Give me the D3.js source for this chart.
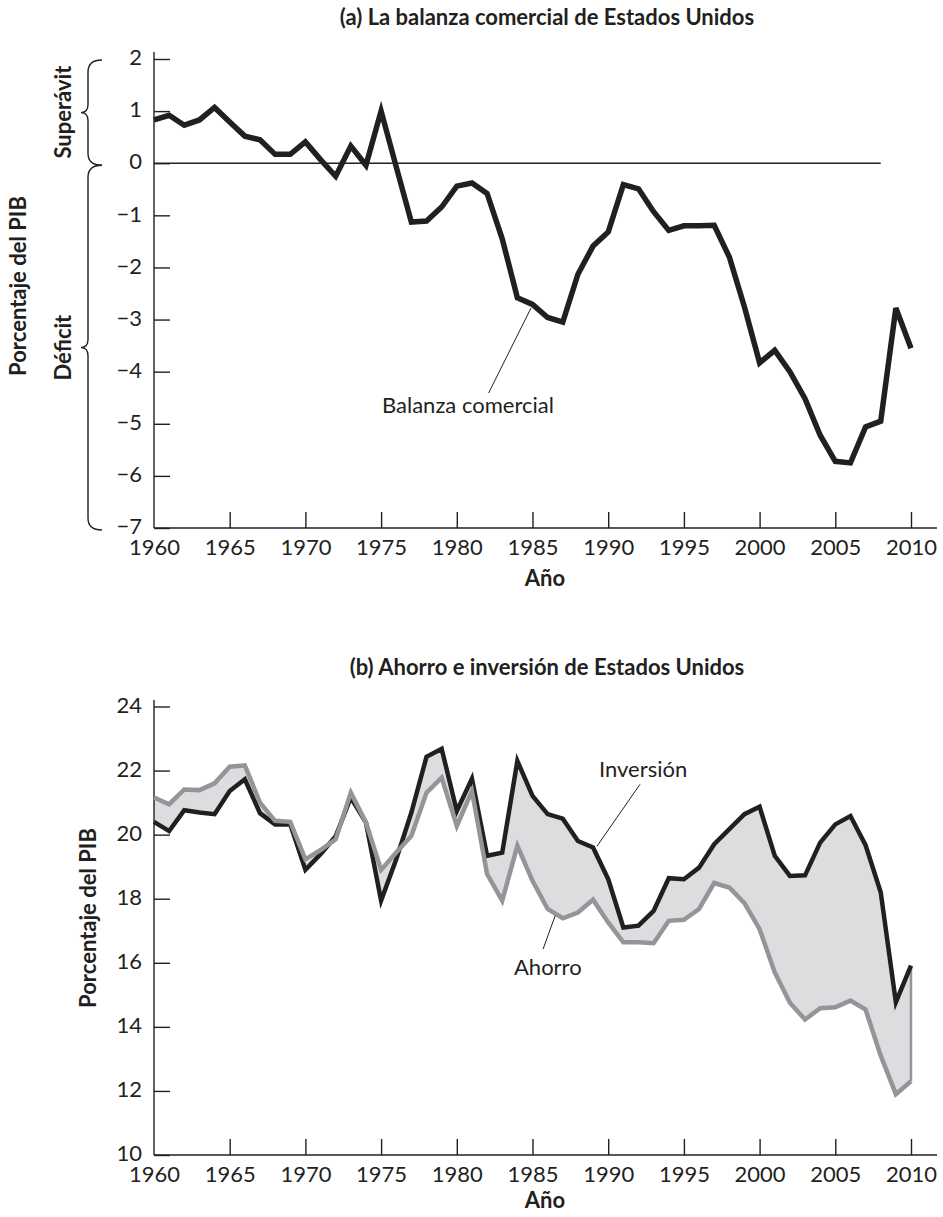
<!DOCTYPE html>
<html><head><meta charset="utf-8">
<script src="https://cdn.jsdelivr.net/npm/d3@7"></script>
<style>
html,body{margin:0;padding:0;background:#fff;}
svg{display:block;}
text{font-family:Lato,"Open Sans",sans-serif;fill:#231f20;}
</style></head>
<body>
<svg id="c" width="943" height="1217"></svg>
<script>
const years = d3.range(1960, 2011);
const tradeBalance = [0.83,0.92,0.73,0.83,1.07,0.79,0.52,0.45,0.17,0.17,
  0.41,0.07,-0.25,0.33,-0.04,1.0,-0.07,-1.13,-1.11,-0.84,
  -0.44,-0.38,-0.58,-1.45,-2.58,-2.71,-2.96,-3.05,-2.13,-1.59,
  -1.32,-0.41,-0.49,-0.93,-1.29,-1.2,-1.2,-1.19,-1.8,-2.76,
  -3.83,-3.59,-4.0,-4.52,-5.22,-5.72,-5.75,-5.06,-4.95,-2.78,-3.55];
const investment = [20.4,20.11,20.76,20.69,20.64,21.36,21.73,20.67,20.32,20.32,
  18.9,19.39,19.95,21.16,20.38,17.94,19.23,20.69,22.43,22.68,
  20.74,21.75,19.34,19.44,22.3,21.21,20.64,20.5,19.8,19.6,
  18.61,17.1,17.16,17.62,18.64,18.61,18.97,19.7,20.17,20.64,
  20.87,19.34,18.71,18.73,19.75,20.32,20.58,19.67,18.2,14.77,15.91];
const saving = [21.16,20.95,21.41,21.39,21.6,22.12,22.16,21.0,20.43,20.4,
  19.23,19.52,19.85,21.31,20.38,18.9,19.44,19.96,21.31,21.78,
  20.27,21.36,18.77,17.94,19.65,18.56,17.68,17.39,17.57,17.97,
  17.26,16.64,16.64,16.61,17.31,17.34,17.68,18.49,18.35,17.86,
  17.05,15.7,14.75,14.23,14.58,14.61,14.82,14.54,13.1,11.9,12.3];
const xTicks = [1960,1965,1970,1975,1980,1985,1990,1995,2000,2005,2010];
const yTicksTop = [2,1,0,-1,-2,-3,-4,-5,-6,-7];
const yTicksBottom = [10,12,14,16,18,20,22,24];

const svg = d3.select("#c");
const INK = "#231f20", GRAY = "#939598", FILL = "#dcdddf";

const x = d3.scaleLinear().domain([1960, 2010]).range([154, 911]);
const yTop = d3.scaleLinear().domain([-7, 2]).range([528, 59]);
const yBot = d3.scaleLinear().domain([10, 24]).range([1155, 706.5]);

function drawAxes(g, y, yTicks, top, bottom) {
  g.append("line").attr("x1", 154).attr("x2", 154).attr("y1", top).attr("y2", bottom)
    .attr("stroke", INK).attr("stroke-width", 1.4);
  g.append("line").attr("x1", 154).attr("x2", 937).attr("y1", bottom).attr("y2", bottom)
    .attr("stroke", INK).attr("stroke-width", 1.4);
  const ya = g.append("g").attr("transform", "translate(154,0)")
    .call(d3.axisLeft(y).tickValues(yTicks).tickSizeInner(-16).tickSizeOuter(0).tickPadding(12));
  ya.select(".domain").remove();
  const xa = g.append("g").attr("transform", `translate(0,${bottom})`)
    .call(d3.axisBottom(x).tickValues(xTicks).tickFormat(d3.format("d")).tickSizeInner(-16).tickSizeOuter(0).tickPadding(11));
  xa.select(".domain").remove();
  [ya, xa].forEach(a => {
    a.selectAll("line").attr("stroke", INK).attr("stroke-width", 1.4);
    a.selectAll("text").attr("font-family", "Lato, sans-serif").attr("font-size", 22).attr("fill", INK);
  });
  ya.selectAll("text").attr("dy", "0.26em");
  xa.selectAll("line").filter(d => d === 1960).remove();
}

// ---------- Panel (a) ----------
const ga = svg.append("g");
ga.append("text").attr("x", 547).attr("y", 25).attr("text-anchor", "middle")
  .attr("font-size", 22).attr("font-weight", "bold").text("(a) La balanza comercial de Estados Unidos");
drawAxes(ga, yTop, yTicksTop, 52, 528);
ga.append("line").attr("x1", 154).attr("x2", x(2008)).attr("y1", yTop(0)).attr("y2", yTop(0))
  .attr("stroke", INK).attr("stroke-width", 1.4);
ga.append("path").datum(years.map((yr, i) => [yr, tradeBalance[i]]))
  .attr("d", d3.line().x(d => x(d[0])).y(d => yTop(d[1])))
  .attr("fill", "none").attr("stroke", INK).attr("stroke-width", 5.5).attr("stroke-linejoin", "miter");
ga.append("line").attr("x1", x(1982.1)).attr("y1", yTop(-4.41)).attr("x2", x(1984.9)).attr("y2", yTop(-2.78))
  .attr("stroke", INK).attr("stroke-width", 1);
ga.append("text").attr("x", 382).attr("y", 413).attr("font-size", 22).text("Balanza comercial");
function brace(g, top, bot) {
  const mid = (top + bot) / 2, xl = 88, xt = 81, xe = 102, r = 12;
  g.append("path").attr("d",
    `M${xe},${top} Q${xl},${top} ${xl},${top + r} L${xl},${mid - 8} Q${xl},${mid} ${xt},${mid} ` +
    `Q${xl},${mid} ${xl},${mid + 8} L${xl},${bot - r} Q${xl},${bot} ${xe},${bot}`)
    .attr("fill", "none").attr("stroke", INK).attr("stroke-width", 1.4);
}
brace(ga, yTop(2) + 1, yTop(0) + 2);
brace(ga, yTop(0) + 2, yTop(-7) + 2);
ga.append("text").attr("transform", `translate(71,${(yTop(2) + yTop(0)) / 2 + 1}) rotate(-90)`)
  .attr("text-anchor", "middle").attr("font-size", 22).attr("font-weight", "bold").text("Superávit");
ga.append("text").attr("transform", `translate(71,${(yTop(0) + yTop(-7)) / 2 + 2}) rotate(-90)`)
  .attr("text-anchor", "middle").attr("font-size", 22).attr("font-weight", "bold").text("Déficit");
ga.append("text").attr("transform", "translate(26,286) rotate(-90)")
  .attr("text-anchor", "middle").attr("font-size", 22).attr("font-weight", "bold").text("Porcentaje del PIB");
ga.append("text").attr("x", 545).attr("y", 586).attr("text-anchor", "middle")
  .attr("font-size", 22).attr("font-weight", "bold").text("Año");

// ---------- Panel (b) ----------
const gb = svg.append("g");
gb.append("text").attr("x", 547).attr("y", 675).attr("text-anchor", "middle")
  .attr("font-size", 22).attr("font-weight", "bold").text("(b) Ahorro e inversión de Estados Unidos");
const rows = years.map((yr, i) => ({yr, inv: investment[i], sav: saving[i]}));
gb.append("path").datum(rows)
  .attr("d", d3.area().x(d => x(d.yr)).y0(d => yBot(d.sav)).y1(d => yBot(d.inv)))
  .attr("fill", FILL);
drawAxes(gb, yBot, yTicksBottom, 700, 1155);
const last = rows[rows.length - 1];
gb.append("line").attr("x1", x(last.yr)).attr("x2", x(last.yr)).attr("y1", yBot(last.sav)).attr("y2", yBot(last.inv))
  .attr("stroke", GRAY).attr("stroke-width", 2.5);
gb.append("path").datum(rows)
  .attr("d", d3.line().x(d => x(d.yr)).y(d => yBot(d.inv)))
  .attr("fill", "none").attr("stroke", INK).attr("stroke-width", 4.5).attr("stroke-linejoin", "miter");
gb.append("path").datum(rows)
  .attr("d", d3.line().x(d => x(d.yr)).y(d => yBot(d.sav)))
  .attr("fill", "none").attr("stroke", GRAY).attr("stroke-width", 4.5).attr("stroke-linejoin", "miter");
gb.append("line").attr("x1", x(1992.1)).attr("y1", yBot(21.57)).attr("x2", x(1989.26)).attr("y2", yBot(19.64))
  .attr("stroke", INK).attr("stroke-width", 1);
gb.append("text").attr("x", 599).attr("y", 777).attr("font-size", 22).text("Inversión");
gb.append("line").attr("x1", x(1985.7)).attr("y1", yBot(16.43)).attr("x2", x(1986.5)).attr("y2", yBot(17.47))
  .attr("stroke", INK).attr("stroke-width", 1);
gb.append("text").attr("x", 514).attr("y", 975).attr("font-size", 22).text("Ahorro");
gb.append("text").attr("transform", "translate(96,918) rotate(-90)")
  .attr("text-anchor", "middle").attr("font-size", 22).attr("font-weight", "bold").text("Porcentaje del PIB");
gb.append("text").attr("x", 545).attr("y", 1208).attr("text-anchor", "middle")
  .attr("font-size", 22).attr("font-weight", "bold").text("Año");
</script>
</body></html>
